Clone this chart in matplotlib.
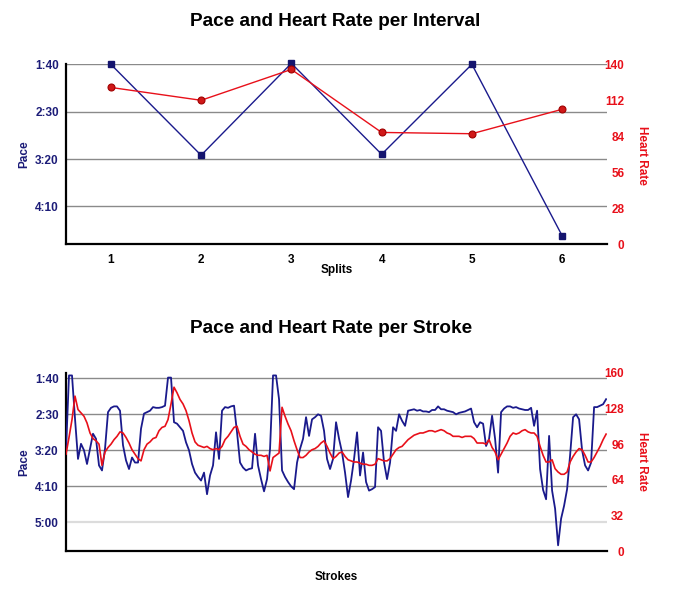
import matplotlib
matplotlib.use("Agg")
import matplotlib.pyplot as plt
from matplotlib.ticker import FuncFormatter

# ---------------- data ----------------
splits = [1, 2, 3, 4, 5, 6]
split_pace_sec = [100, 196, 99, 195, 100, 281]
split_hr = [122, 112, 136, 87, 86, 105]

stroke_pace_sec = [
    200, 96, 96, 156, 212, 191, 200, 219, 198, 177, 184, 221, 228, 198, 147, 141, 139, 139, 145, 193,
    214, 226, 210, 217, 217, 170, 149, 147, 145, 140,
    141, 141, 140, 138, 99, 99, 161, 163, 168, 173, 189, 200, 219, 231, 237, 242, 231, 261, 235, 221,
    175, 212, 145, 140, 141, 139, 138, 175, 217, 224,
    228, 226, 225, 177, 221, 240, 257, 240, 198, 96, 96, 129, 228, 237, 244, 250, 254, 217, 198, 184,
    154, 180, 157, 154, 150, 152, 173, 212, 226, 212,
    161, 184, 203, 231, 265, 242, 212, 175, 235, 203, 244, 256, 254, 251, 168, 173, 217, 240, 217, 168,
    173, 150, 159, 166, 145, 144, 143, 145, 144, 146,
    146, 147, 144, 144, 139, 143, 143, 145, 146, 147, 150, 148, 147, 146, 144, 142, 161, 168, 161, 163,
    194, 184, 152, 184, 231, 147, 142, 139, 139, 141,
    140, 142, 143, 144, 144, 141, 166, 145, 226, 255, 268, 180, 256, 281, 332, 295, 277, 254, 207, 154,
    150, 157, 200, 221, 228, 217, 140, 140, 138, 136, 129,
]
stroke_hr = [
    87, 102, 118, 139, 127, 124, 121, 115, 106, 101, 99, 96, 77, 89, 93, 96, 100, 103, 107, 106,
    102, 97, 91, 87, 83, 81, 91, 96, 98, 101,
    102, 108, 111, 112, 118, 132, 147, 142, 136, 132, 126, 117, 106, 98, 95, 94, 93, 94, 92, 91,
    92, 91, 94, 100, 103, 107, 111, 112, 103, 96,
    94, 91, 89, 87, 86, 86, 85, 86, 72, 84, 86, 88, 129, 121, 114, 108, 99, 91, 84, 84,
    86, 89, 91, 92, 94, 97, 99, 94, 88, 83,
    85, 88, 89, 85, 82, 81, 80, 80, 79, 78, 78, 77, 77, 78, 83, 82, 81, 81, 83, 87,
    91, 93, 94, 97, 100, 102, 104, 105, 106, 106,
    107, 108, 108, 107, 108, 109, 108, 106, 105, 103, 103, 103, 102, 103, 103, 103, 101, 97, 97, 97,
    96, 100, 93, 89, 82, 87, 92, 97, 103, 106,
    105, 106, 108, 109, 107, 106, 106, 103, 94, 86, 80, 80, 82, 74, 71, 69, 69, 71, 80, 85,
    89, 92, 91, 86, 80, 80, 84, 89, 94, 100, 105,
]
strokes = list(range(len(stroke_pace_sec)))

pace_ticks_top = [100, 150, 200, 250]
pace_ticks_bottom = [100, 150, 200, 250, 300]
hr_ticks_top = [0, 28, 56, 84, 112, 140]
hr_ticks_bottom = [0, 32, 64, 96, 128, 160]

# ---------------- style ----------------
FONT = "Liberation Sans"
NAVY = "#1c1c78"
BLUE = "#1a1a8c"
RED = "#e8101a"
GRID = "#8a8a8a"
LIGHTGRID = "#dcdcdc"
W, H = 684, 601

def mmss(v, pos=None):
    v = int(round(v))
    return f"{v // 60}:{v % 60:02d}"

fig = plt.figure(figsize=(W / 100, H / 100), dpi=100)

def fx(px):
    return px / W

def fy(py):
    return 1 - py / H

def make_axes(top_px, bot_px):
    left, right = 65.7, 607.3
    ax = fig.add_axes([fx(left), fy(bot_px), fx(right - left), (bot_px - top_px) / H])
    axr = ax.twinx()
    for a in (ax, axr):
        for s in ("top", "right"):
            a.spines[s].set_visible(False)
    axr.spines["left"].set_visible(False)
    axr.spines["bottom"].set_visible(False)
    ax.spines["left"].set_linewidth(1.6)
    ax.spines["bottom"].set_linewidth(1.6)
    ax.spines["left"].set_color("black")
    ax.spines["bottom"].set_color("black")
    ax.tick_params(axis="y", length=0, pad=5, labelcolor=NAVY, labelsize=8.5)
    ax.tick_params(axis="x", length=0, pad=7, labelcolor="black", labelsize=8.5)
    axr.tick_params(axis="y", length=0, pad=12.2, labelcolor=RED, labelsize=8.5)
    return ax, axr

def style_ticklabels(ax, axr):
    for t in ax.get_yticklabels() + ax.get_xticklabels():
        t.set_fontfamily(FONT)
        t.set_fontweight("bold")
    for t in axr.get_yticklabels():
        t.set_fontfamily(FONT)
        t.set_fontweight("bold")
        t.set_horizontalalignment("right")

# ---------------- top chart ----------------
ax1, ax1r = make_axes(64.3, 244.3)
ax1.set_xlim(0.5, 6.5)
ax1.set_ylim(290, 100)
ax1.set_yticks(pace_ticks_top)
ax1.yaxis.set_major_formatter(FuncFormatter(mmss))
ax1.set_xticks(splits)
for v in pace_ticks_top:
    ax1.axhline(v, color=GRID, lw=1.0, zorder=0)
ax1.plot(splits, split_pace_sec, color=BLUE, lw=1.0, marker="s", ms=4.6,
         mfc="#14146e", mec="#14146e", clip_on=False, zorder=3)
ax1r.set_ylim(0, 140)
ax1r.set_yticks(hr_ticks_top)
ax1r.plot(splits, split_hr, color=RED, lw=1.0, marker="o", ms=5.0,
          mfc="#d01818", mec="#a00000", mew=0.8, clip_on=False, zorder=3)
style_ticklabels(ax1, ax1r)

# ---------------- bottom chart ----------------
ax2, ax2r = make_axes(372.7, 551.3)
ax2.set_xlim(-0.1, 180.4)
ax2.set_ylim(340.3, 92.2)
ax2.set_yticks(pace_ticks_bottom)
ax2.yaxis.set_major_formatter(FuncFormatter(mmss))
ax2.set_xticks([])
for v in pace_ticks_bottom:
    ax2.axhline(v, color=(LIGHTGRID if v == 300 else GRID), lw=1.0 if v != 300 else 1.6, zorder=0)
ax2.plot(strokes, stroke_pace_sec, color=BLUE, lw=1.3, zorder=3)
ax2r.set_ylim(0, 160)
ax2r.set_yticks(hr_ticks_bottom)
ax2r.plot(strokes, stroke_hr, color=RED, lw=1.2, zorder=3)
style_ticklabels(ax2, ax2r)

# ---------------- texts ----------------
title_kw = dict(fontfamily=FONT, fontweight="bold", fontsize=13.7, ha="center", va="center", color="black")
fig.text(fx(335.6), fy(21.7), "Pace and Heart Rate per Interval", **title_kw)
fig.text(fx(331.5), fy(328.3), "Pace and Heart Rate per Stroke", **title_kw)

lab_kw = dict(fontfamily=FONT, fontweight="bold", fontsize=8.5, ha="center", va="center")
fig.text(fx(336.5), fy(269.5), "Splits", color="black", **lab_kw)
fig.text(fx(336.0), fy(576.7), "Strokes", color="black", **lab_kw)
fig.text(fx(24), fy(154.3), "Pace", color=NAVY, rotation=90, **lab_kw)
fig.text(fx(24), fy(462.0), "Pace", color=NAVY, rotation=90, **lab_kw)
fig.text(fx(641.7), fy(155.0), "Heart Rate", color=RED, rotation=270, **lab_kw)
fig.text(fx(641.7), fy(461.7), "Heart Rate", color=RED, rotation=270, **lab_kw)

fig.savefig("out.png", dpi=100)
